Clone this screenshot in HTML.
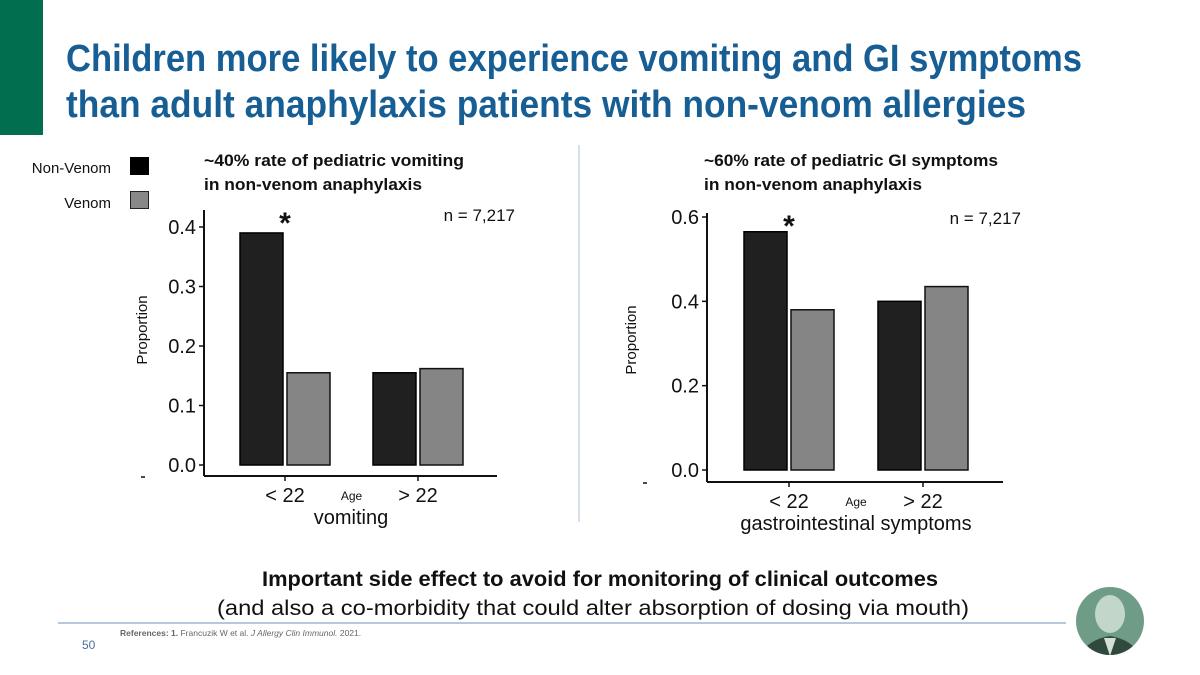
<!DOCTYPE html>
<html><head><meta charset="utf-8"><style>
html,body{margin:0;padding:0;background:#fff;}
svg{display:block;font-family:"Liberation Sans",sans-serif;}
</style></head><body>
<svg id="s" width="1200" height="675" viewBox="0 0 1200 675" xmlns="http://www.w3.org/2000/svg">
<rect x="0" y="0" width="43" height="135" fill="#006e4f"/>
<text x="66" y="71" font-size="38" font-weight="bold" fill="#175e95" textLength="1016" lengthAdjust="spacingAndGlyphs">Children more likely to experience vomiting and GI symptoms</text>
<text x="66" y="117" font-size="38" font-weight="bold" fill="#175e95" textLength="960" lengthAdjust="spacingAndGlyphs">than adult anaphylaxis patients with non-venom allergies</text>

<g>
<text x="111" y="173" font-size="15" text-anchor="end" fill="#111">Non-Venom</text>
<rect x="130" y="157" width="19" height="18" fill="#000"/>
<text x="111" y="208" font-size="15" text-anchor="end" fill="#111">Venom</text>
<rect x="130.5" y="191.5" width="18" height="17" fill="#888" stroke="#222"/>
</g>

<text x="204" y="166" font-size="17" font-weight="bold" fill="#111" textLength="260" lengthAdjust="spacingAndGlyphs">~40% rate of pediatric vomiting</text>
<text x="204" y="190" font-size="17" font-weight="bold" fill="#111" textLength="218" lengthAdjust="spacingAndGlyphs">in non-venom anaphylaxis</text>
<text x="704" y="166" font-size="17" font-weight="bold" fill="#111" textLength="294" lengthAdjust="spacingAndGlyphs">~60% rate of pediatric GI symptoms</text>
<text x="704" y="190" font-size="17" font-weight="bold" fill="#111" textLength="218" lengthAdjust="spacingAndGlyphs">in non-venom anaphylaxis</text>

<line x1="579" y1="145" x2="579" y2="522" stroke="#a9bfd6" stroke-width="1"/>

<g id="left"></g>
<g id="right"></g>

<text x="600" y="586" font-size="21" font-weight="bold" text-anchor="middle" fill="#111" textLength="676" lengthAdjust="spacingAndGlyphs">Important side effect to avoid for monitoring of clinical outcomes</text>
<text x="593" y="615" font-size="21" text-anchor="middle" fill="#111" textLength="752" lengthAdjust="spacingAndGlyphs">(and also a co-morbidity that could alter absorption of dosing via mouth)</text>
<line x1="58" y1="623" x2="1066" y2="623" stroke="#8aa7c4" stroke-width="1.2"/>
<text x="120" y="636" font-size="8.5" fill="#666"><tspan font-weight="bold">References: 1.</tspan> Francuzik W et al. <tspan font-style="italic">J Allergy Clin Immunol.</tspan> 2021.</text>
<text x="82" y="649" font-size="12" fill="#4a6f96">50</text>
<g>
<clipPath id="pc"><circle cx="1110" cy="621" r="34"/></clipPath>
<circle cx="1110" cy="621" r="34" fill="#6f9c86"/>
<g clip-path="url(#pc)">
<ellipse cx="1110" cy="614" rx="15" ry="19" fill="#c2d6c9"/>
<path d="M1078 660 Q1085 640 1110 636 Q1135 640 1142 660Z" fill="#2f4a3c"/>
<path d="M1104 638 L1110 656 L1116 638Z" fill="#d3e0d7"/>
</g>
</g>
</svg>
<script>
// Vomiting chart data
const vomCategories = ["< 22", "> 22"];
const vomNonVenom = [0.39, 0.155];
const vomVenom = [0.155, 0.162];
const vomTicks = [0.0, 0.1, 0.2, 0.3, 0.4];
const vomTickLabels = ["0.0", "0.1", "0.2", "0.3", "0.4"];
// GI chart data
const giCategories = ["< 22", "> 22"];
const giNonVenom = [0.565, 0.40];
const giVenom = [0.38, 0.435];
const giTicks = [0.0, 0.2, 0.4, 0.6];
const giTickLabels = ["0.0", "0.2", "0.4", "0.6"];

const NS = "http://www.w3.org/2000/svg";
function mk(tag, attrs, parent, text){
  const e = document.createElementNS(NS, tag);
  for (const k in attrs) e.setAttribute(k, attrs[k]);
  if (text !== undefined) e.textContent = text;
  parent.appendChild(e); return e;
}
function drawChart(g, cfg, cats, nv, v, ticks, tickLabels, prefix){
  const y = val => cfg.y0 - (val - 0) * (cfg.y0 - cfg.yTop) / cfg.vTop;
  const axX = cfg.axX, axY = cfg.axY;
  const yl = mk("line", {x1:axX, y1:cfg.axTop, x2:axX, y2:axY, stroke:"#111", "stroke-width":2}, g);
  
  
  const xl = mk("line", {x1:axX, y1:axY, x2:cfg.axRight, y2:axY, stroke:"#111", "stroke-width":2}, g);
  
  
  ticks.forEach((t, i) => {
    const ty = y(t);
    const tk = mk("line", {x1:axX-5, y1:ty, x2:axX, y2:ty, stroke:"#111", "stroke-width":1.5}, g);
    
    
    const lb = mk("text", {x:axX-8, y:ty+7, "font-size":20, "text-anchor":"end", fill:"#111"}, g, tickLabels[i]);
    
    
  });
  const bw = cfg.bw, gap = cfg.gap;
  cats.forEach((c, i) => {
    const cx = cfg.cat0 + i * cfg.catStep;
    const b1 = mk("rect", {x:cx-gap/2-bw, y:y(nv[i]), width:bw, height:y(0)-y(nv[i]), fill:"#202020", stroke:"#000", "stroke-width":1.5}, g);
    
    
    const b2 = mk("rect", {x:cx+gap/2, y:y(v[i]), width:bw, height:y(0)-y(v[i]), fill:"#858585", stroke:"#111", "stroke-width":1.5}, g);
    
    
    const tk = mk("line", {x1:cx, y1:axY, x2:cx, y2:axY+5, stroke:"#111", "stroke-width":1.5}, g);
    
    
    const lb = mk("text", {x:cx, y:axY+26, "font-size":20, "text-anchor":"middle", fill:"#111"}, g, c);
    
    
  });
  const mid = cfg.cat0 + cfg.catStep/2;
  const age = mk("text", {x:mid, y:axY+24, "font-size":12, "text-anchor":"middle", fill:"#111"}, g, "Age");
  
  
  const xt = mk("text", {x:cfg.xTitleX, y:axY+48, "font-size":20, "text-anchor":"middle", fill:"#111"}, g, cfg.xTitle);
  
  
  const star = mk("text", {x:cfg.cat0, y:cfg.axTop+23, "font-size":30, "font-weight":"bold", "text-anchor":"middle", fill:"#111"}, g, "*");
  
  
  const n = mk("text", {x:cfg.axRight+18, y:cfg.axTop+11, "font-size":17, "text-anchor":"end", fill:"#111"}, g, "n = 7,217");
  
  
  const yt = mk("text", {transform:"translate("+cfg.yTitleX+","+cfg.yTitleY+") rotate(-90)", "font-size":15, "text-anchor":"middle", fill:"#111"}, g, "Proportion");
  
  
  const dash = mk("line", {x1:cfg.dashX, y1:axY+1, x2:cfg.dashX+4, y2:axY+1, stroke:"#111", "stroke-width":1.5}, g);
  
  
}
drawChart(document.getElementById("left"),
  {y0:465, yTop:227, vTop:0.4, axX:204, axY:476, axTop:210, axRight:497, bw:43, gap:4, cat0:285, catStep:133,
   xTitle:"vomiting", xTitleX:351, yTitleX:147, yTitleY:330, dashX:141},
  vomCategories, vomNonVenom, vomVenom, vomTicks, vomTickLabels, "vomiting");
drawChart(document.getElementById("right"),
  {y0:470, yTop:217, vTop:0.6, axX:707, axY:482, axTop:213, axRight:1003, bw:43, gap:4, cat0:789, catStep:134,
   xTitle:"gastrointestinal symptoms", xTitleX:856, yTitleX:636, yTitleY:340, dashX:643},
  giCategories, giNonVenom, giVenom, giTicks, giTickLabels, "gi");
</script>
</body></html>
